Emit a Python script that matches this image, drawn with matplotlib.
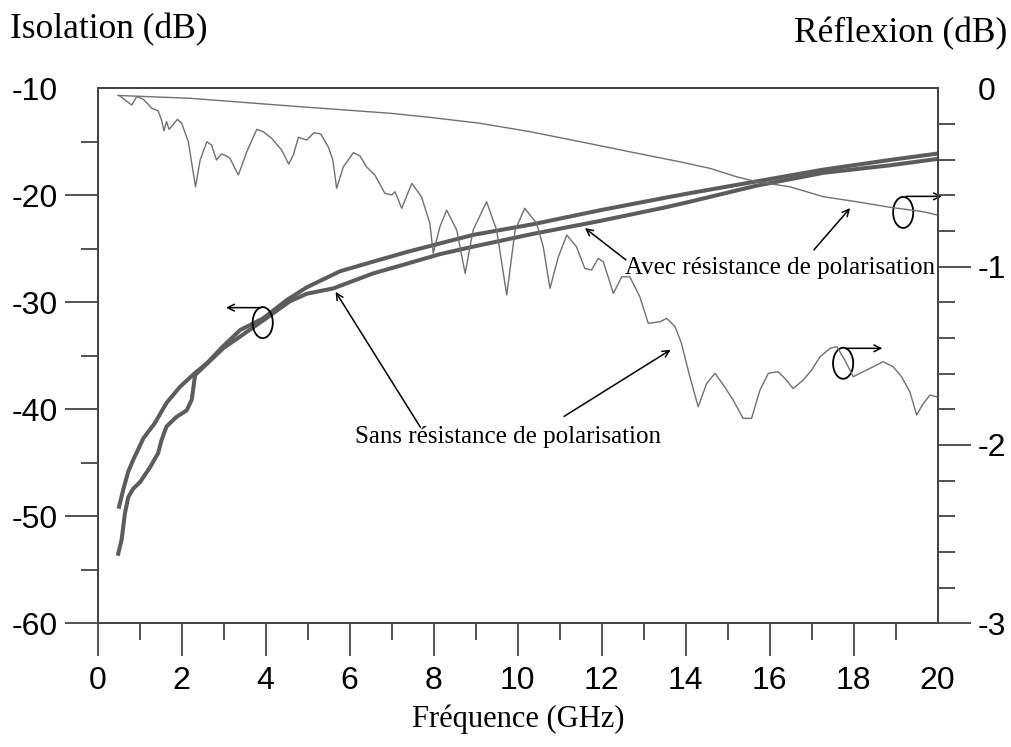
import matplotlib
matplotlib.use("Agg")
import matplotlib.pyplot as plt
from matplotlib.patches import Ellipse

# Isolation (dB), left axis - two measured curves
iso_a_f = [0.51, 0.61, 0.73, 0.85, 1.09, 1.36, 1.64, 1.96, 2.32, 2.60, 2.99, 3.39, 3.94, 4.50,
           4.98, 5.77, 6.56, 7.36, 8.15, 8.94, 10.37, 11.96, 13.55, 14.10, 15.69, 17.28, 18.86, 20.0]
iso_a_db = [-49.1, -47.5, -45.8, -44.7, -42.7, -41.3, -39.4, -37.9, -36.6, -35.7, -34.1, -32.6, -31.5, -29.8,
            -28.6, -27.1, -26.2, -25.3, -24.5, -23.7, -22.7, -21.4, -20.2, -19.8, -18.7, -17.6, -16.7, -16.1]

iso_b_f = [0.49, 0.57, 0.65, 0.73, 0.85, 1.01, 1.25, 1.44, 1.52, 1.64, 1.88, 2.12, 2.24, 2.32, 2.99,
           3.94, 4.58, 4.98, 5.61, 6.56, 7.36, 8.15, 8.94, 10.37, 11.96, 13.55, 14.10, 15.69, 17.28, 18.86, 20.0]
iso_b_db = [-53.5, -52.2, -49.7, -48.2, -47.4, -46.8, -45.4, -44.1, -42.9, -41.6, -40.7, -40.1, -39.1, -36.8, -34.3,
            -31.7, -29.9, -29.2, -28.7, -27.3, -26.4, -25.5, -24.8, -23.6, -22.4, -21.1, -20.6, -19.1, -17.9, -17.2, -16.6]

# Reflexion (dB), right axis
refl_avec_f = [0.48, 2.20, 4.58, 6.96, 7.91, 9.10, 10.29, 11.48, 12.67, 13.86, 14.58, 15.21, 15.69,
               16.48, 17.28, 18.07, 18.86, 19.66, 20.0]
refl_avec_db = [-0.040, -0.056, -0.099, -0.140, -0.163, -0.196, -0.243, -0.299, -0.356, -0.412, -0.449,
                -0.496, -0.524, -0.552, -0.608, -0.636, -0.667, -0.692, -0.711]

refl_sans_f = [0.53, 0.81, 0.93, 1.09, 1.29, 1.44, 1.52, 1.58, 1.64, 1.70,
               1.90, 2.00, 2.16, 2.24, 2.33, 2.44, 2.60, 2.71, 2.83, 2.95,
               3.07, 3.15, 3.35, 3.55, 3.79, 3.94, 4.14, 4.38, 4.55, 4.66,
               4.78, 4.98, 5.15, 5.31, 5.49, 5.60, 5.69, 5.85, 6.09, 6.25,
               6.40, 6.60, 6.84, 7.00, 7.08, 7.24, 7.48, 7.71, 7.91, 7.99,
               8.15, 8.31, 8.55, 8.75, 8.94, 9.26, 9.50, 9.74, 9.94, 10.17,
               10.45, 10.61, 10.77, 10.97, 11.17, 11.40, 11.60, 11.76, 11.92, 12.04,
               12.28, 12.48, 12.67, 12.91, 13.11, 13.39, 13.55, 13.75, 13.90, 14.10,
               14.30, 14.50, 14.70, 14.90, 15.13, 15.37, 15.57, 15.77, 15.97, 16.20,
               16.36, 16.56, 16.80, 17.00, 17.20, 17.44, 17.60, 17.79, 17.99, 18.23,
               18.47, 18.70, 18.94, 19.14, 19.34, 19.50, 19.66, 19.82, 19.98]
refl_sans_db = [-0.043, -0.094, -0.047, -0.062, -0.112, -0.126, -0.178, -0.238, -0.187, -0.230,
                -0.174, -0.196, -0.300, -0.421, -0.552, -0.402, -0.300, -0.318, -0.402, -0.368,
                -0.380, -0.393, -0.486, -0.356, -0.230, -0.243, -0.280, -0.346, -0.425, -0.374,
                -0.275, -0.290, -0.249, -0.256, -0.328, -0.402, -0.561, -0.440, -0.361, -0.380,
                -0.440, -0.486, -0.589, -0.598, -0.580, -0.673, -0.533, -0.608, -0.757, -0.925,
                -0.776, -0.683, -0.795, -1.038, -0.795, -0.636, -0.795, -1.159, -0.795, -0.673,
                -0.757, -0.888, -1.122, -0.944, -0.823, -0.888, -1.010, -1.019, -0.953, -0.973,
                -1.150, -1.057, -1.057, -1.169, -1.318, -1.309, -1.290, -1.337, -1.430, -1.617,
                -1.786, -1.655, -1.598, -1.664, -1.748, -1.851, -1.851, -1.692, -1.598, -1.589,
                -1.626, -1.683, -1.636, -1.580, -1.505, -1.458, -1.449, -1.524, -1.617, -1.589,
                -1.561, -1.533, -1.561, -1.617, -1.702, -1.832, -1.767, -1.720, -1.730]

x_ticks = [0, 2, 4, 6, 8, 10, 12, 14, 16, 18, 20]
iso_ticks = [-60, -50, -40, -30, -20, -10]
refl_ticks = [-3, -2, -1, 0]

plt.rcParams['axes.unicode_minus'] = False
sans = 'Liberation Sans'
serif = 'Liberation Serif'
axis_col = '#444444'

fig = plt.figure(figsize=(10.12, 7.47), dpi=100)
ax = fig.add_axes([0.0965, 0.1656, 0.830, 0.7162])
ax2 = ax.twinx()

ax.plot(iso_a_f, iso_a_db, color='#5c5c5c', lw=2.9, solid_joinstyle='round')
ax.plot(iso_b_f, iso_b_db, color='#5c5c5c', lw=2.9, solid_joinstyle='round')
ax2.plot(refl_avec_f, refl_avec_db, color='#707070', lw=1.0)
ax2.plot(refl_sans_f, refl_sans_db, color='#707070', lw=1.0)

ax.set_xlim(0, 20)
ax.set_ylim(-60, -10)
ax2.set_ylim(-3, 0)

ax.set_xticks(x_ticks)
ax.set_xticks(range(1, 20, 2), minor=True)
ax.set_yticks(iso_ticks)
ax.set_yticks(range(-55, -10, 10), minor=True)
ax2.set_yticks(refl_ticks)
ax2.set_yticks([-2.8, -2.6, -2.4, -2.2, -1.8, -1.6, -1.4, -1.2, -0.8, -0.6, -0.4, -0.2], minor=True)

for a in (ax, ax2):
    for s in a.spines.values():
        s.set_color(axis_col)
        s.set_linewidth(1.3)
    a.tick_params(which='major', direction='out', length=24, width=1.3, color=axis_col,
                  labelsize=23, pad=5)
    a.tick_params(which='minor', direction='out', length=12, width=1.3, color=axis_col)
    for lab in a.get_xticklabels() + a.get_yticklabels():
        lab.set_fontfamily(sans)
ax.tick_params(axis='x', which='major', pad=7)

# no tick marks at -10, 20 and 0 (right)
ax.yaxis.get_major_ticks()[-1].tick1line.set_visible(False)
ax.xaxis.get_major_ticks()[-1].tick1line.set_visible(False)
ax2.yaxis.get_major_ticks()[-1].tick2line.set_visible(False)

fig.text(0.010, 0.960, 'Isolation (dB)', family=serif, fontsize=25.5, va='center', ha='left')
fig.text(0.995, 0.955, 'Réflexion (dB)', family=serif, fontsize=25.5, va='center', ha='right')
fig.text(0.512, 0.037, 'Fréquence (GHz)', family=serif, fontsize=22, va='center', ha='center')

arr = dict(arrowstyle='->', color='black', lw=1.1, mutation_scale=12)
ax.text(12.55, -26.8, 'Avec résistance de polarisation', family=serif, fontsize=18, va='center')
ax.annotate('', xy=(11.55, -22.9), xytext=(12.63, -26.2), arrowprops=arr)
ax.annotate('', xy=(17.96, -21.0), xytext=(17.01, -25.3), arrowprops=arr)

ax.text(6.13, -42.6, 'Sans résistance de polarisation', family=serif, fontsize=18, va='center')
ax.annotate('', xy=(5.63, -28.8), xytext=(7.72, -41.9), arrowprops=arr)
ax.annotate('', xy=(13.70, -34.3), xytext=(11.05, -40.8), arrowprops=arr)

# ellipses + arrows towards the matching axis
for cx, cy, x_end, y_arr in [(3.93, -31.9, 2.99, -30.5), (19.18, -21.6, 20.17, -20.1),
                             (17.75, -35.7, 18.75, -34.3)]:
    ax.add_patch(Ellipse((cx, cy), 0.48, 2.9, fill=False, ec='black', lw=1.3, zorder=5))
    ax.annotate('', xy=(x_end, y_arr), xytext=(cx, y_arr), arrowprops=arr, annotation_clip=False)

fig.savefig('out.png', dpi=100)
